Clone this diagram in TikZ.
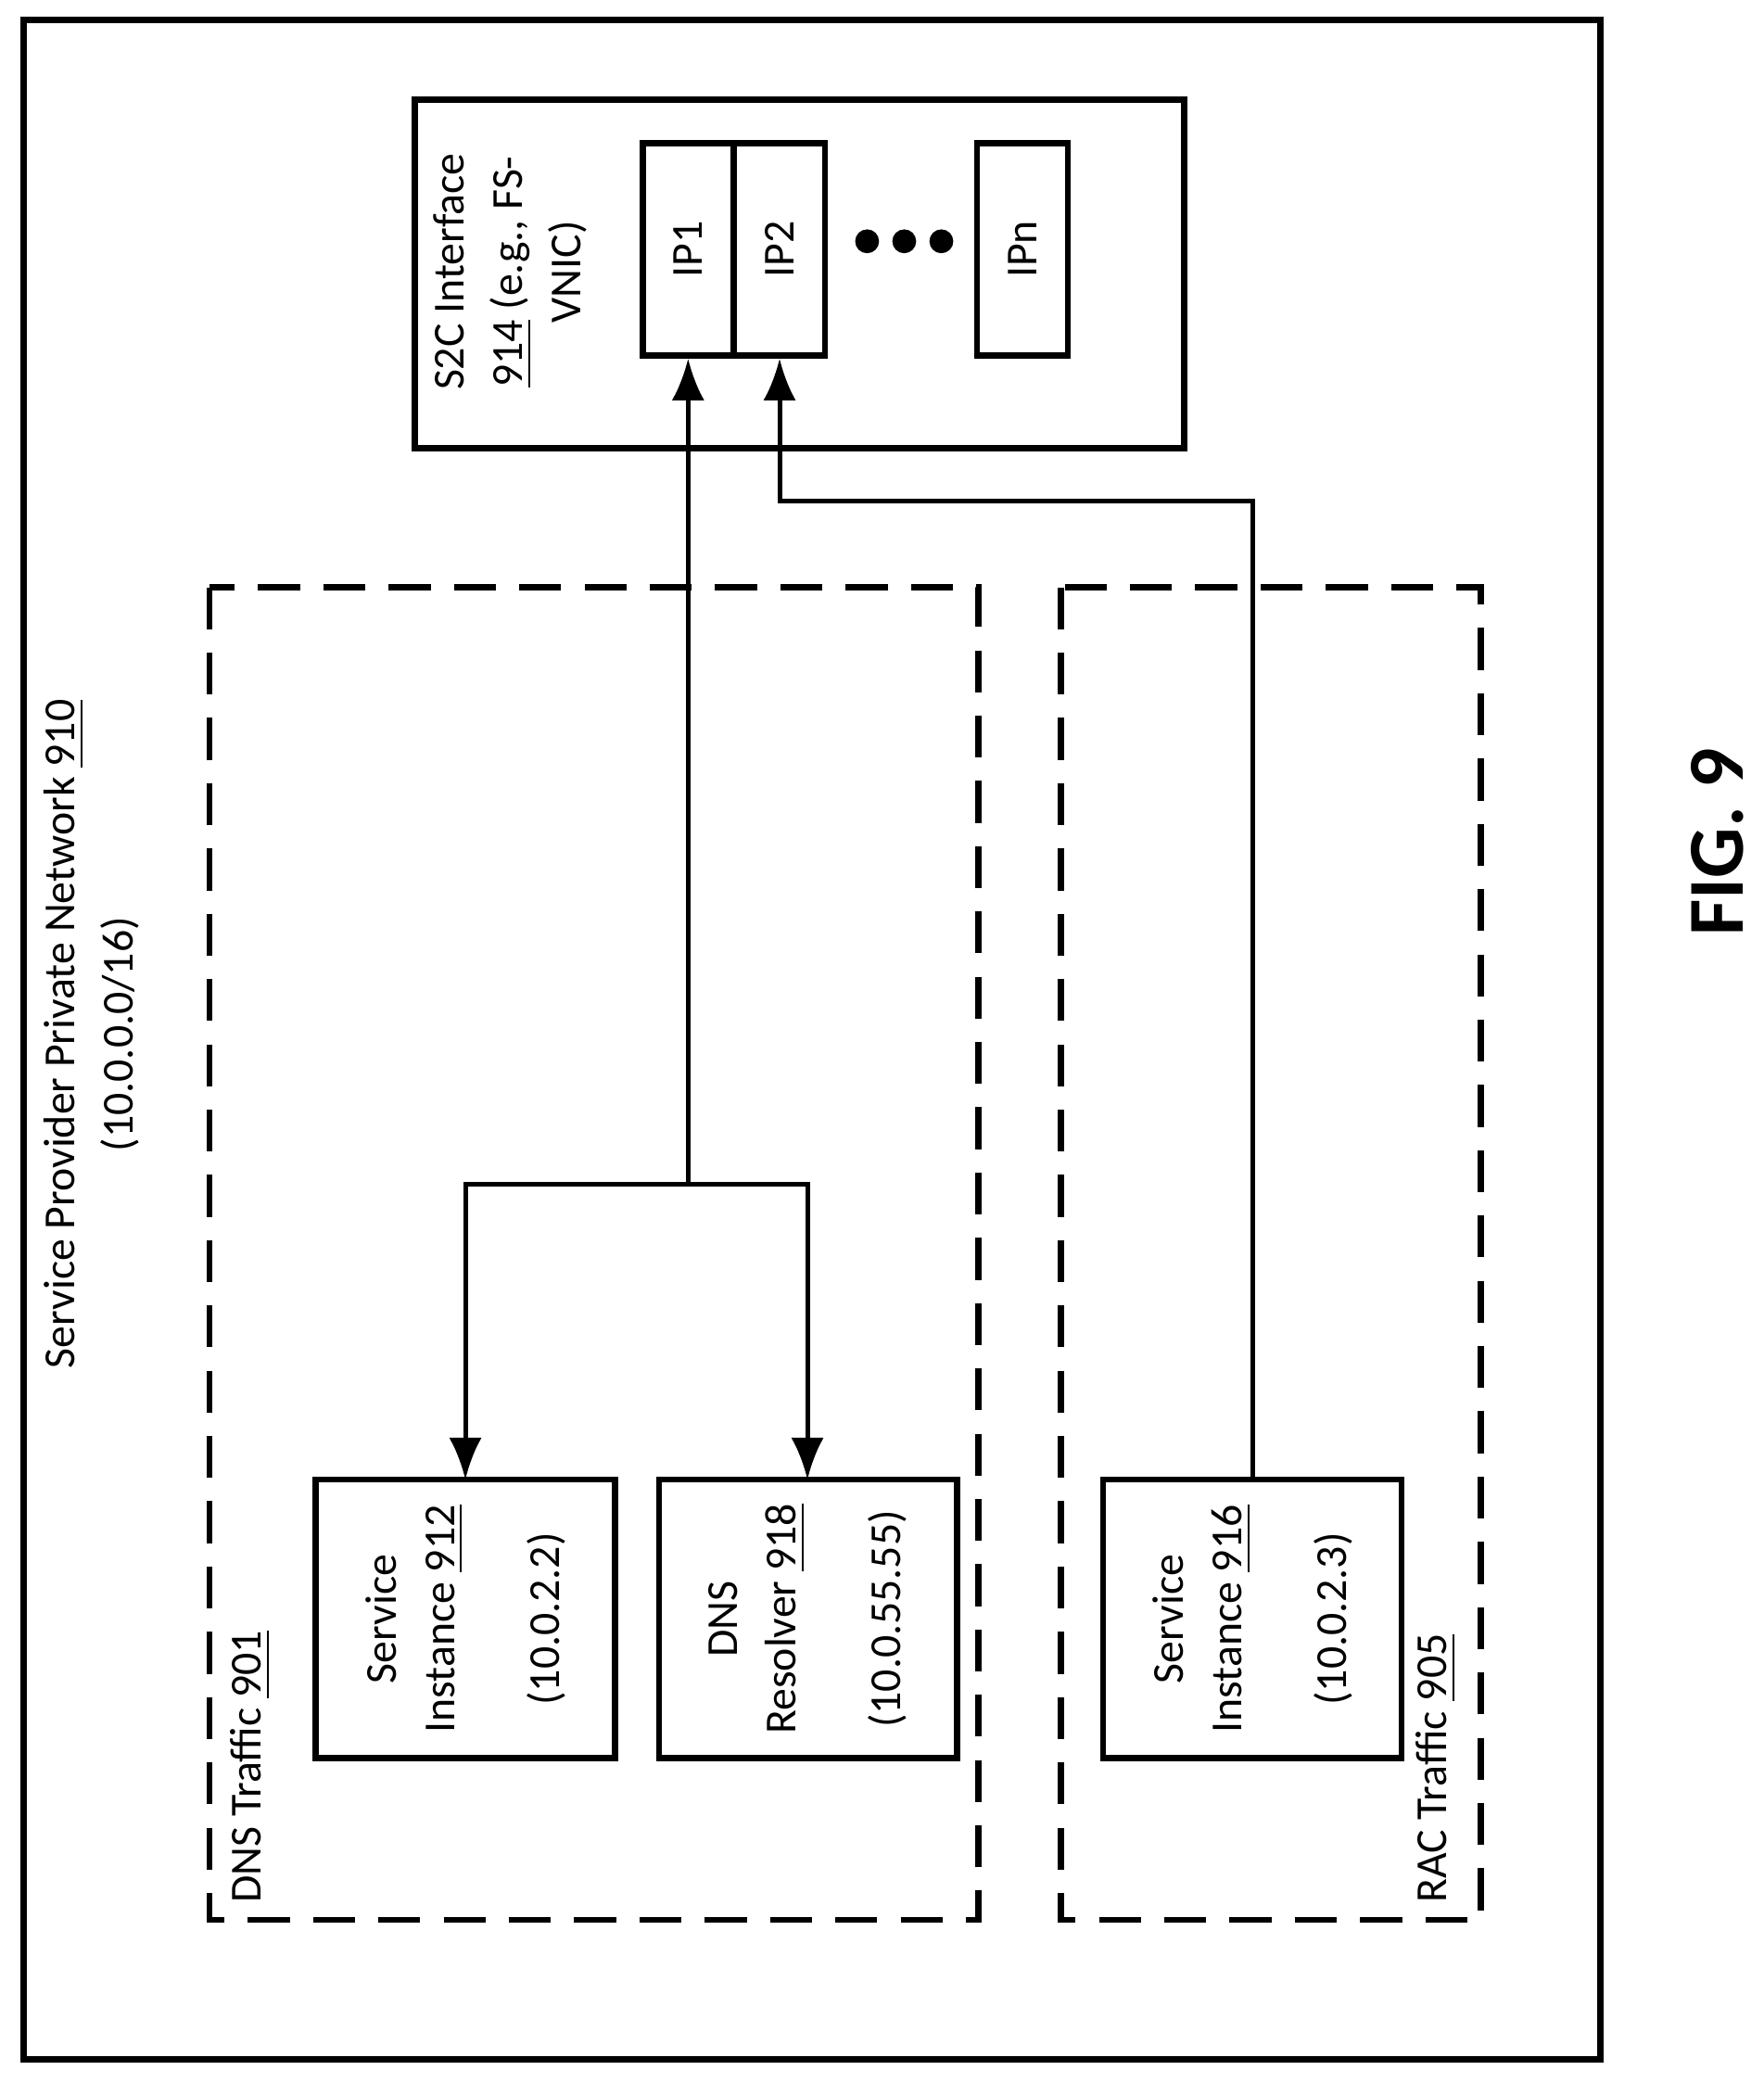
\documentclass[tikz,border=0pt]{standalone}
\usepackage{fontspec}
\setmainfont{Carlito}
\usetikzlibrary{arrows.meta}
\begin{document}
\begin{tikzpicture}[x=0.01cm,y=-0.01cm,
  box/.style={draw,line width=1.3pt},
  dbox/.style={draw,line width=1.3pt,dash pattern=on 9pt off 5pt},
  txt/.style={rotate=90,font=\fontsize{9.5}{12.5}\selectfont,align=center,inner sep=0},
  ipb/.style={box,rotate=90,minimum width=1.6cm,minimum height=0.685cm,inner sep=0,font=\fontsize{9.5}{12.5}\selectfont},
  con/.style={draw,line width=1pt},
  arr/.style={con,-{Latex[length=9pt,width=7pt]}}]
\useasboundingbox (0,0) rectangle (1330,1571);
\draw[box] (18,15) rectangle (1207,1553);
\node[txt] (title) at (69,780) {Service Provider Private Network \underline{910}\\(10.0.0.0/16)};
\draw[box] (313,75) rectangle (893,338);
\node[txt] (s2c) at (385,205) {S2C Interface\\\underline{914} (e.g., FS-\\VNIC)};
\node[ipb] (ip1) at (519,188) {IP1};
\node[ipb] (ip2) at (588,188) {IP2};
\node[ipb] (ipn) at (771,188) {IPn};
\foreach \x in {654,682,710} \fill (\x,182) circle (9);
\draw[dbox] (158,443) rectangle (738,1448);
\draw[dbox] (800,443) rectangle (1117,1448);
\node[txt,anchor=south west] (dns) at (205,1436) {DNS Traffic \underline{901}};
\node[txt,anchor=south west] (rac) at (1099,1436) {RAC Traffic \underline{905}};
\draw[box] (238,1116) rectangle (464,1326);
\draw[box] (497,1116) rectangle (722,1326);
\draw[box] (832,1116) rectangle (1057,1326);
\node[txt] (s912) at (351,1221) {Service\\Instance \underline{912}\\[10pt](10.0.2.2)};
\node[txt] (d918) at (609,1221) {DNS\\Resolver \underline{918}\\[10pt](10.0.55.55)};
\node[txt] (s916) at (945,1221) {Service\\Instance \underline{916}\\[10pt](10.0.2.3)};
\coordinate (j) at (519,893);
\draw[arr] (j) -- (ip1.west);
\draw[arr] (j) -| (351,1116);
\draw[arr] (j) -| (609,1116);
\draw[arr] (945,1116) -- (945,378) -| (ip2.west);
\node[rotate=90,font=\bfseries\fontsize{17}{20}\selectfont] (fig) at (1295,635) {FIG. 9};
\end{tikzpicture}
\end{document}
